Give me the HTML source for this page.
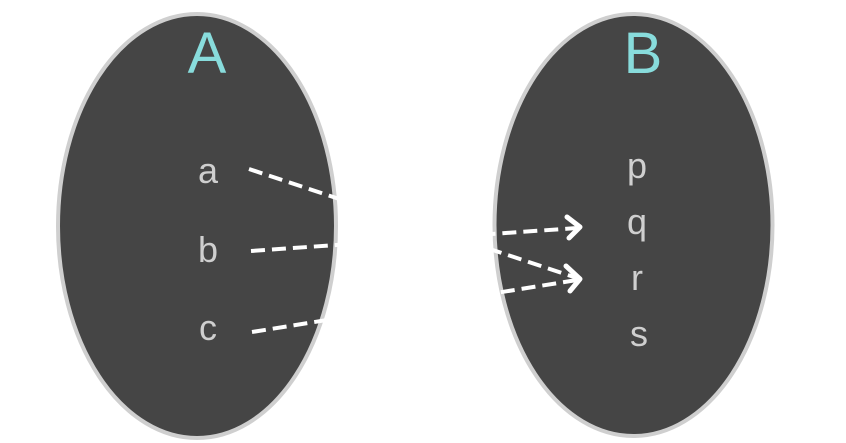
<!DOCTYPE html>
<html><head><meta charset="utf-8"><style>
html,body{margin:0;padding:0;background:#fff;}
svg{display:block;}
</style></head><body>
<svg width="846" height="443" viewBox="0 0 846 443" xmlns="http://www.w3.org/2000/svg">
<ellipse cx="197" cy="226" rx="139" ry="212" fill="#454545" stroke="#cfcfcf" stroke-width="4"/>
<ellipse cx="633.5" cy="225" rx="139" ry="211" fill="#454545" stroke="#cfcfcf" stroke-width="4"/>
<g font-family="Liberation Sans, sans-serif" text-anchor="middle">
<text x="207" y="73" font-size="58" fill="#88dcdc">A</text>
<text x="643" y="73" font-size="58" fill="#88dcdc">B</text>
<g font-size="36" fill="#cfcfcf">
<text x="208" y="183">a</text>
<text x="208" y="262">b</text>
<text x="208" y="340">c</text>
<text x="637" y="178">p</text>
<text x="637" y="234">q</text>
<text x="637" y="290">r</text>
<text x="639" y="346">s</text>
</g>
</g>
<g stroke="#fff" stroke-width="4" fill="none" stroke-dasharray="14,7">
<line x1="249" y1="169" x2="577" y2="278"/>
<line x1="251" y1="251" x2="577" y2="228"/>
<line x1="252" y1="332" x2="577" y2="280"/>
</g>
<g stroke="#fff" stroke-width="5" fill="none" stroke-linecap="round" stroke-linejoin="round">
<polyline points="567,217 580,227 569,238"/>
<polyline points="566,266 580,279 570,291"/>
</g>
</svg>
</body></html>
